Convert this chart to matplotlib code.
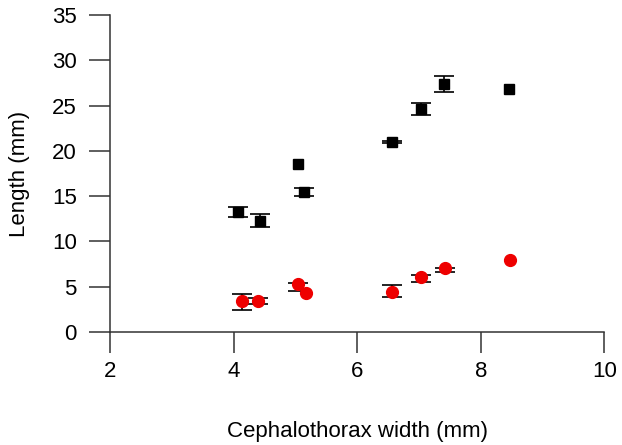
import matplotlib
matplotlib.use("Agg")
import matplotlib.pyplot as plt
import numpy as np

plt.rcParams['font.family'] = ['Liberation Sans', 'DejaVu Sans']

# Black squares series
sq_x = [4.07, 4.43, 5.04, 5.14, 6.56, 7.03, 7.41, 8.45]
sq_y = [13.3, 12.3, 18.6, 15.5, 20.97, 24.66, 27.4, 26.8]
sq_err_lo = [0.55, 0.7, 0.0, 0.45, 0.1, 0.74, 0.9, 0.0]
sq_err_hi = [0.5, 0.7, 0.0, 0.45, 0.1, 0.67, 0.87, 0.0]

# Red circles series
ci_x = [4.13, 4.39, 5.05, 5.18, 6.56, 7.03, 7.42, 8.47]
ci_y = [3.47, 3.47, 5.27, 4.36, 4.4, 6.12, 7.09, 7.97]
ci_err_lo = [1.07, 0.37, 0.7, 0.0, 0.5, 0.62, 0.49, 0.0]
ci_err_hi = [0.73, 0.26, 0.16, 0.0, 0.8, 0.12, 0.03, 0.0]

x_ticks = [2, 4, 6, 8, 10]
y_ticks = [0, 5, 10, 15, 20, 25, 30, 35]

fig = plt.figure(figsize=(6.22, 4.45), dpi=100)
ax = fig.add_axes([0.1768, 0.2539, 0.7947, 0.7124])

def draw_err(x, y, lo, hi):
    keep = [i for i in range(len(x)) if lo[i] > 0 or hi[i] > 0]
    ax.errorbar([x[i] for i in keep], [y[i] for i in keep],
                yerr=[[lo[i] for i in keep], [hi[i] for i in keep]],
                fmt='none', ecolor='black',
                elinewidth=1.2, capsize=7.5, capthick=1.2, zorder=2)

draw_err(sq_x, sq_y, sq_err_lo, sq_err_hi)
draw_err(ci_x, ci_y, ci_err_lo, ci_err_hi)
ax.plot(sq_x, sq_y, linestyle='none', marker='s', markersize=7,
        color='black', zorder=3)
ax.plot(ci_x, ci_y, linestyle='none', marker='o', markersize=8.5,
        color='#ee0000', zorder=3)

ax.set_xlim(2, 10)
ax.set_ylim(0, 35)
ax.set_xticks(x_ticks)
ax.set_yticks(y_ticks)
for s in ['top', 'right']:
    ax.spines[s].set_visible(False)
for s in ['left', 'bottom']:
    ax.spines[s].set_color('#333333')
    ax.spines[s].set_linewidth(1.1)
ax.tick_params(axis='both', direction='out', length=15, width=1.1,
               color='#333333', labelsize=16)
ax.tick_params(axis='y', pad=9)
ax.tick_params(axis='x', pad=6)
ax.set_xlabel('Cephalothorax width (mm)', fontsize=16, labelpad=28)
ax.set_ylabel('Length (mm)', fontsize=16, labelpad=16)

fig.savefig('out.png', dpi=100)
